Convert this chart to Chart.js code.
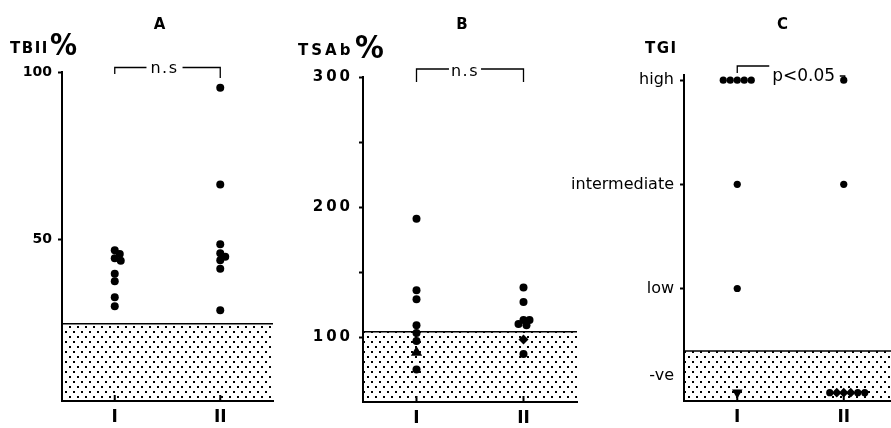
<!DOCTYPE html>
<html>
<head>
<meta charset="utf-8">
<script src="https://cdn.jsdelivr.net/npm/chart.js"></script>
<style>
  html, body { margin: 0; padding: 0; background: #fff; }
  #figure { position: relative; width: 891px; height: 428px; overflow: hidden; background: #fff; }
  #figure canvas { position: absolute; top: 0; }
</style>
</head>
<body>
<div id="figure">
  <canvas id="panelA" width="290" height="428" style="left:0"></canvas>
  <canvas id="panelB" width="300" height="428" style="left:290px"></canvas>
  <canvas id="panelC" width="360" height="428" style="left:555px"></canvas>
</div>
<script>
// patient groups on the x axis
const groups = ['I', 'II'];

// A: TBII (%)
const tbiiGroupI  = [46.9, 45.8, 44.5, 43.8, 39.9, 37.7, 32.9, 30.2];
const tbiiGroupII = [95.3, 66.5, 48.7, 46.0, 45.0, 43.9, 41.4, 29.0];
const tbiiNormalMax = 25;
const tbiiTicks = [50, 100];
const tbiiTickLabels = ['50', '100'];

// B: TSAb (%)
const tsabGroupI  = [191, 136, 129, 109, 103, 97, 88, 75];
const tsabGroupII = [138, 127, 113, 113, 110, 109, 98, 87];
const tsabNormalMax = 104;
const tsabTicks = [100, 150, 200, 250, 300];
const tsabTickLabels = ['100', '', '200', '', '300'];

// C: TGI grade
const tgiLevels = ['-ve', 'low', 'intermediate', 'high'];
const tgiGroupI  = ['high', 'high', 'high', 'high', 'high', 'intermediate', 'low', '-ve'];
const tgiGroupII = ['high', 'intermediate', '-ve', '-ve', '-ve', '-ve', '-ve', '-ve'];
const tgiNormalMax = 0.4;   // top of the negative band, in level units
const tgiMin = -0.08;
const tgiMax = 3.05;

Chart.defaults.font.family = '"DejaVu Sans", sans-serif';
Chart.defaults.color = '#000';

// stippled fill for the normal range
function dotPattern() {
  const tile = document.createElement('canvas');
  tile.width = 8;
  tile.height = 10;
  const g = tile.getContext('2d');
  g.fillStyle = '#000';
  g.fillRect(1, 1, 2, 2);
  g.fillRect(5, 6, 2, 2);
  return g.createPattern(tile, 'repeat');
}
const stipple = dotPattern();

// spreads dots of one group sideways so they do not sit on top of each other
const swarm = {
  id: 'swarm',
  afterDatasetsUpdate(chart, args, opts) {
    chart.data.datasets.forEach((ds, i) => {
      if (!ds.swarm) return;
      const placed = [];
      chart.getDatasetMeta(i).data.forEach(pt => {
        let dx = 0;
        for (let k = 0; k < 400; k++) {
          dx = (k % 2 ? 1 : -1) * Math.ceil(k / 2) * 0.5;
          if (placed.every(p => Math.hypot(dx - p.dx, pt.y - p.y) >= opts.gap)) break;
        }
        placed.push({ dx, y: pt.y });
        pt.x += dx;
      });
    });
  }
};

// letter spacing for the y tick labels only (x labels are drawn later, z: 1)
const spacedYTicks = {
  id: 'spacedYTicks',
  beforeDraw(chart, args, opts) { chart.ctx.letterSpacing = opts.spacing; },
  beforeDatasetsDraw(chart) { chart.ctx.letterSpacing = '0px'; }
};

// panel letter, axis name, category marks and the significance bracket
const decor = {
  id: 'decor',
  afterDraw(chart, args, o) {
    const { ctx, chartArea: a } = chart;
    const xs = chart.scales.x;
    const x1 = xs.getPixelForValue(1);
    const x2 = xs.getPixelForValue(2);
    const mid = (x1 + x2) / 2;
    ctx.save();
    ctx.fillStyle = '#000';
    ctx.strokeStyle = '#000';
    ctx.textBaseline = 'alphabetic';

    ctx.textAlign = 'center';
    ctx.font = 'bold 15px "DejaVu Sans"';
    ctx.fillText(o.letter, mid - 8, 28.5);

    ctx.textAlign = 'left';
    ctx.font = o.captionFont;
    ctx.letterSpacing = o.captionSpacing;
    ctx.fillText(o.caption, a.left + o.captionX, o.captionY);
    ctx.letterSpacing = '0px';
    if (o.unitFont) {
      ctx.font = o.unitFont;
      ctx.fillText('%', a.left + o.unitX, o.unitY);
    }

    ctx.lineWidth = 2;
    [x1, x2].forEach(px => {
      ctx.beginPath();
      ctx.moveTo(px, a.bottom);
      ctx.lineTo(px, a.bottom - 6);
      ctx.stroke();
    });

    const b = o.bracket;
    const y = a.top + b.lineY;
    ctx.lineWidth = 1.3;
    ctx.font = b.font;
    ctx.letterSpacing = b.spacing;
    ctx.beginPath();
    if (b.hook) {
      const tx = x1 + b.textX;
      ctx.textAlign = 'left';
      ctx.fillText(b.label, tx, a.top + b.baseY);
      ctx.moveTo(x1, a.top + b.leftDrop);
      ctx.lineTo(x1, y);
      ctx.lineTo(tx - 3, y);
      ctx.moveTo(x2 - 4, a.top + b.hookY);
      ctx.lineTo(x2 + 1, a.top + b.hookY);
      ctx.lineTo(x2 + 1, a.top + b.rightDrop);
    } else {
      const tx = mid + b.textX;
      const w = ctx.measureText(b.label).width;
      ctx.textAlign = 'center';
      ctx.fillText(b.label, tx, a.top + b.baseY);
      ctx.moveTo(x1, a.top + b.leftDrop);
      ctx.lineTo(x1, y);
      ctx.lineTo(tx - w / 2 - b.gap, y);
      ctx.moveTo(tx + w / 2 + b.gap, y);
      ctx.lineTo(x2, y);
      ctx.lineTo(x2, a.top + b.rightDrop);
    }
    ctx.stroke();
    ctx.restore();
  }
};

function scatterSet(values, groupIndex, marks, radius) {
  const mark = c => marks[c.dataIndex] || {};
  return {
    type: 'scatter',
    swarm: true,
    order: 1,
    clip: false,
    data: values.map(v => ({ x: groupIndex + 1, y: v })),
    pointStyle: c => mark(c).style || 'circle',
    pointRotation: c => mark(c).rotation || 0,
    pointRadius: c => radius + (mark(c).grow || 0),
    pointBackgroundColor: '#000',
    pointBorderColor: '#000',
    pointBorderWidth: 0
  };
}

function bandSet(normalMax) {
  return {
    type: 'line',
    order: 2,
    data: [{ x: 0.5, y: normalMax }, { x: 2.5, y: normalMax }],
    fill: 'start',
    backgroundColor: stipple,
    borderColor: '#000',
    borderWidth: 1.5,
    pointRadius: 0
  };
}

function panelConfig(p) {
  return {
    type: 'scatter',
    data: { datasets: [bandSet(p.normalMax), ...p.sets] },
    options: {
      responsive: false,
      animation: false,
      events: [],
      layout: { padding: p.padding },
      plugins: {
        legend: { display: false },
        tooltip: { enabled: false },
        swarm: { gap: p.gap },
        spacedYTicks: { spacing: p.tickSpacing || '0px' },
        decor: p.decor
      },
      scales: {
        x: {
          type: 'linear',
          min: 0.5,
          max: 2.5,
          afterFit: s => { s.height = p.xHeight; },
          afterBuildTicks: s => { s.ticks = groups.map((g, i) => ({ value: i + 1 })); },
          ticks: {
            callback: (v, i) => groups[i],
            font: { size: 17, weight: 'bold' },
            color: '#000',
            padding: 6,
            autoSkip: false,
            maxRotation: 0,
            z: 1
          },
          grid: { drawOnChartArea: false, drawTicks: false },
          border: { color: '#000', width: 2 }
        },
        y: {
          type: 'linear',
          min: p.yMin,
          max: p.yMax,
          afterFit: s => { s.width = p.yWidth; },
          afterBuildTicks: s => { s.ticks = p.yTicks.map(v => ({ value: v })); },
          ticks: {
            callback: (v, i) => p.yLabels[i],
            font: p.tickFont,
            color: '#000',
            padding: p.tickPad,
            autoSkip: false
          },
          grid: {
            drawOnChartArea: false,
            tickLength: 4,
            tickWidth: 2,
            tickColor: p.tickColor || '#000'
          },
          border: { color: '#000', width: 2 }
        }
      }
    },
    plugins: [swarm, spacedYTicks, decor]
  };
}

// A: TBII
new Chart(document.getElementById('panelA'), panelConfig({
  sets: [scatterSet(tbiiGroupI, 0, {}, 4), scatterSet(tbiiGroupII, 1, {}, 4)],
  normalMax: tbiiNormalMax,
  yMin: 2, yMax: 100,
  yTicks: tbiiTicks, yLabels: tbiiTickLabels,
  tickFont: { size: 14, weight: 'bold' }, tickPad: 6,
  padding: { left: 12, right: 17, top: 72, bottom: 0 },
  yWidth: 50, xHeight: 27, gap: 6,
  decor: {
    letter: 'A',
    caption: 'TBII', captionFont: 'bold 15px "DejaVu Sans"', captionSpacing: '1.5px',
    captionX: -52, captionY: 52.5,
    unitFont: 'bold 30px "Liberation Sans Narrow", "DejaVu Sans Condensed", sans-serif',
    unitX: -12, unitY: 55,
    bracket: { label: 'n.s', font: '16px "DejaVu Sans"', spacing: '1.5px',
      lineY: -4.5, leftDrop: 2, rightDrop: 6, textX: -3, baseY: 1, gap: 4 }
  }
}));

// B: TSAb
new Chart(document.getElementById('panelB'), panelConfig({
  sets: [
    scatterSet(tsabGroupI, 0, { 6: { style: 'triangle', grow: 2.5 } }, 4),
    scatterSet(tsabGroupII, 1, { 6: { style: 'rectRot', grow: 1 } }, 4)
  ],
  normalMax: tsabNormalMax,
  yMin: 50, yMax: 300,
  yTicks: tsabTicks, yLabels: tsabTickLabels,
  tickFont: { size: 15, weight: 'bold' }, tickPad: 6, tickSpacing: '3px',
  padding: { left: 18, right: 13, top: 77, bottom: 0 },
  yWidth: 55, xHeight: 26, gap: 6,
  decor: {
    letter: 'B',
    caption: 'TSAb', captionFont: 'bold 15px "DejaVu Sans"', captionSpacing: '3px',
    captionX: -65, captionY: 55,
    unitFont: 'bold 32px "Liberation Sans Narrow", "DejaVu Sans Condensed", sans-serif',
    unitX: -8, unitY: 58,
    bracket: { label: 'n.s', font: '16px "DejaVu Sans"', spacing: '1.5px',
      lineY: -8, leftDrop: 5, rightDrop: 5, textX: -5, baseY: -1, gap: 2 }
  }
}));

// C: TGI grade
const tgiNegLabelAt = (tgiMin + tgiNormalMax) / 2;
new Chart(document.getElementById('panelC'), panelConfig({
  sets: [
    scatterSet(tgiGroupI.map(l => tgiLevels.indexOf(l)), 0,
      { 7: { style: 'triangle', rotation: 180, grow: 2.5 } }, 3.6),
    scatterSet(tgiGroupII.map(l => tgiLevels.indexOf(l)), 1,
      { 2: { style: 'rectRot', grow: 1.2 }, 3: { style: 'rectRot', grow: 1.2 }, 4: { style: 'rectRot', grow: 1.2 } }, 3.6)
  ],
  normalMax: tgiNormalMax,
  yMin: tgiMin, yMax: tgiMax,
  yTicks: [tgiNegLabelAt, 1, 2, 3], yLabels: tgiLevels,
  tickFont: { size: 16 }, tickPad: 6,
  tickColor: c => (c.tick && c.tick.value < 0.5 ? 'rgba(0,0,0,0)' : '#000'),
  padding: { left: 9, right: 18, top: 75, bottom: 0 },
  yWidth: 120, xHeight: 27, gap: 7,
  decor: {
    letter: 'C',
    caption: 'TGI', captionFont: '600 15px "DejaVu Sans"', captionSpacing: '1.5px',
    captionX: -39, captionY: 53,
    bracket: { label: 'p<0.05', font: '17px "DejaVu Sans"', spacing: '0px', hook: true,
      lineY: -9, leftDrop: -2, textX: 35, baseY: 6, hookY: 1, rightDrop: 7 }
  }
}));
</script>
</body>
</html>
